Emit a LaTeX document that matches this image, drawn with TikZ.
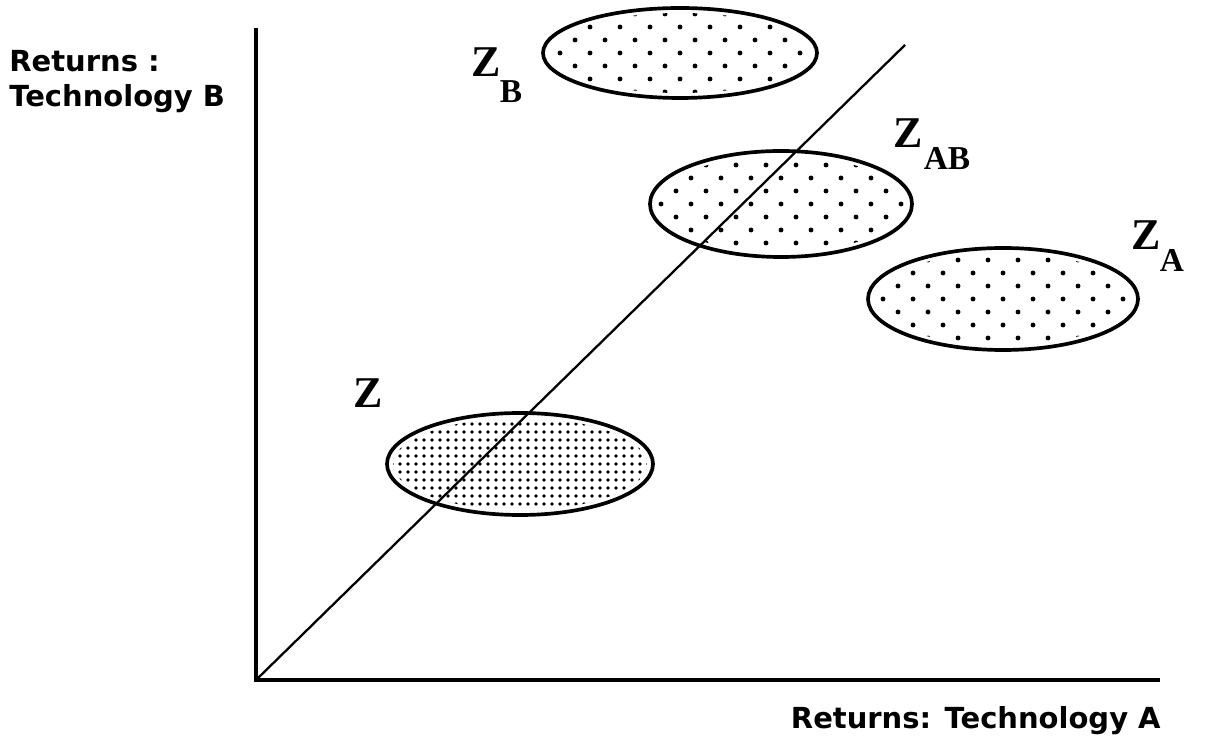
\documentclass[tikz,border=0pt]{standalone}
\usepackage{fontspec}
\newfontfamily\axfont{DejaVu Sans}
\newfontfamily\subfont{Liberation Serif}
\tikzset{
  axisline/.style={line width=2.1pt},
  diagline/.style={line width=1.3pt},
  blobline/.style={line width=2.1pt},
  axlabel/.style={font=\axfont\bfseries\fontsize{16.5}{20}\selectfont, inner sep=0pt},
  zlabel/.style={font=\subfont\bfseries\fontsize{25}{25}\selectfont, inner sep=0pt},
  sublabel/.style={font=\subfont\bfseries\fontsize{19}{19}\selectfont, inner sep=0pt},
}
\newcommand\dotblob[8]{%
  \begin{scope}
    \fill[white] (#1,#2) ellipse [x radius=#3, y radius=#4];
    \clip (#1,#2) ellipse [x radius=#3-6, y radius=#4-5];
    \pgfmathtruncatemacro\nc{#3/#5+2}
    \pgfmathtruncatemacro\ncm{-\nc}
    \pgfmathtruncatemacro\nr{#4/#6+1}
    \pgfmathtruncatemacro\nrm{-\nr}
    \foreach \r in {\nrm,...,\nr}{\foreach \c in {\ncm,...,\nc}{
      \fill ({#1+\c*#5+mod(abs(\r),2)*#7},{#2+\r*#6}) circle (#8);}}
  \end{scope}
  \draw[blobline] (#1,#2) ellipse [x radius=#3, y radius=#4];}
\begin{document}
\begin{tikzpicture}[x=0.02cm,y=-0.02cm]
\useasboundingbox (0,0) rectangle (1206,742);
% ellipses
\dotblob{680}{53}{137}{45}{30}{13}{15}{1.4pt}
\dotblob{781}{204}{131}{53}{30}{13}{15}{1.4pt}
\dotblob{1003}{299}{135}{51}{30}{13}{15}{1.4pt}
\dotblob{520}{464}{133}{51}{8}{8}{0}{1.1pt}
% axes
\coordinate (O) at (256,680);
\coordinate (ytop) at (256,28);
\coordinate (xend) at (1160,680);
\coordinate (dend) at (905,45);
\draw[axisline] (ytop) -- (O) -- (xend);
\draw[diagline] (O) -- (dend);
% axis labels
\node[axlabel, anchor=north west, align=left] (ylab) at (9,50) {Returns :\\Technology B};
\node[axlabel, anchor=base east] (xlab) at (1161,728) {Returns: Technology A};
% Z labels
\node[zlabel, anchor=base] (zB) at (486,77) {Z};
\node[sublabel, anchor=base] (sB) at (511,103) {B};
\node[zlabel, anchor=base] (zAB) at (908,148) {Z};
\node[sublabel, anchor=base] (sAB) at (947,170) {AB};
\node[zlabel, anchor=base] (zA) at (1146,250) {Z};
\node[sublabel, anchor=base] (sA) at (1172,272) {A};
\node[zlabel, anchor=base] (z) at (368,408) {Z};
\end{tikzpicture}
\end{document}
